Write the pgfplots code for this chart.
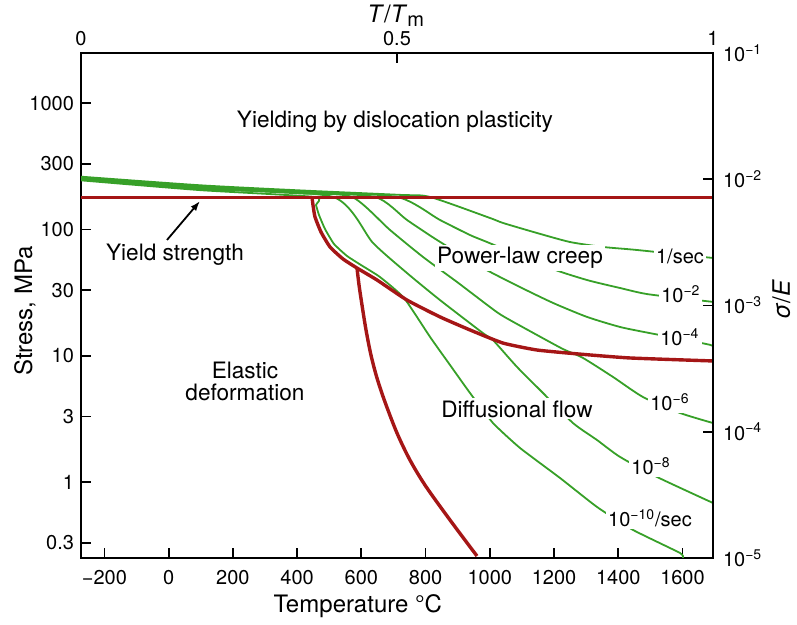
\documentclass[border=0pt]{standalone}
\usepackage{fontspec}
\setmainfont{TeX Gyre Heros}
\usepackage{pgfplots}
\pgfplotsset{compat=1.18}
\usetikzlibrary{arrows.meta}
\definecolor{dred}{RGB}{165,22,22}
\definecolor{dgreen}{RGB}{55,160,40}
\newcommand\ann{\fontsize{11.3}{11}\selectfont}
\newcommand\clab{\fontsize{10}{12}\selectfont}
\newcommand\tlab{\fontsize{10}{12}\selectfont}
\newcommand\alab{\fontsize{12}{14}\selectfont}
\begin{document}
\begin{tikzpicture}
\path[use as bounding box] (-40.5pt,-33.5pt) rectangle (358pt,279pt);
\begin{axis}[
  at={(0pt,0pt)}, anchor=south west,
  scale only axis, width=316pt, height=252.5pt,
  xmin=-273, xmax=1695, ymin=0.25, ymax=2500, ymode=log,
  xtick={-200,0,200,400,600,800,1000,1200,1400,1600},
  xticklabels={−200,0,200,400,600,800,1000,1200,1400,1600},
  ytick={0.33,1,3.3,10,33,100,330,1000},
  yticklabels={0.3,1,3,10,30,100,300,1000},
  xtick pos=left, ytick pos=left,
  tick align=inside, major tick length=5pt,
  yminorticks=false, xminorticks=false,
  axis line style={line width=1pt},
  tick style={black, line width=0.9pt},
  ticklabel style={font=\tlab},
  xticklabel style={yshift=-2.5pt},
  xlabel={Temperature °C},
  xlabel style={font=\alab, at={(axis description cs:0.438,-0.095)}, anchor=center},
  ylabel={Stress, MPa},
  ylabel style={font=\alab, at={(axis description cs:-0.0886,0.489)}, anchor=center},
]
% strain-rate contours
\addplot[dgreen, line width=0.9pt, smooth, tension=0.4] coordinates {
(-273,262) (97.6,224) (408.9,204) (720.3,188) (813.8,181) (1000.6,123.3) (1041.1,112.6) (1146.9,93.8) (1249.7,79.6) (1352.5,72.7) (1458.3,68.8) (1663.8,60.6) (1695,59.5)};
\addplot[dgreen, line width=0.9pt, smooth, tension=0.4] coordinates {
(-273,259) (97.6,220) (408.9,200) (711.0,181) (844.9,118.9) (938.3,90.4) (991.2,79.6) (1187.4,49.5) (1302.6,39.8) (1405.4,34.4) (1489.5,30.8) (1645.2,27.6) (1695,26.7)};
\addplot[dgreen, line width=0.9pt, smooth, tension=0.4] coordinates {
(-273,256) (97.6,216) (408.9,196) (642.5,181) (742.1,118.9) (835.5,82.6) (978.8,49.5) (1094,35.0) (1196.8,26.2) (1302.6,20.3) (1405.4,16.9) (1498.8,15.1) (1614,13.3) (1685.7,12.2) (1695,11.9)};
\addplot[dgreen, line width=0.9pt, smooth, tension=0.4] coordinates {
(-273,253) (97.6,213) (408.9,193) (570.9,181) (689.2,99.1) (791.9,60.6) (897.8,38.4) (1000.6,24.3) (1041.1,20.6) (1146.9,14.6) (1227.9,11.3) (1290.2,9.60) (1383.6,6.79) (1477.0,4.71) (1592.2,3.52) (1695,2.93)};
\addplot[dgreen, line width=0.9pt, smooth, tension=0.4] coordinates {
(-273,249) (97.6,209) (511.7,181) (636.3,78.2) (742.1,45.2) (844.9,27.6) (978.8,15.1) (1009.9,13.3) (1084.7,8.15) (1165.6,5.07) (1259.0,2.93) (1333.8,2.15) (1405.4,1.58) (1520.6,1.096) (1695,0.682)};
\addplot[dgreen, line width=0.9pt, smooth, tension=0.3] coordinates {
(-273,245) (97.6,205) (455.7,181) (458.8,156.3) (468.1,130.3) (486.8,100.9) (514.8,76.8) (555.3,61.7) (598.9,52.3) (658.1,42.0) (732.8,28.7) (813.8,14.1) (876.0,8.45) (938.3,5.07) (1009.9,2.93) (1094,1.86) (1218.6,1.076) (1333.8,0.634) (1445.9,0.417) (1592.2,0.274) (1601.6,0.25)};
% field boundaries
\addplot[dred, line width=1.7pt] coordinates {(-273,180) (1695,180)};
\addplot[dred, line width=1.7pt, smooth, tension=0.3] coordinates {
(446.3,180) (449.4,156.3) (455.7,125.6) (474.3,95.5) (502.4,72.7) (542.8,58.4) (586.4,49.5) (648.7,39.8) (742.1,27.6) (844.9,20.3) (938.3,16.0) (1041.1,12.6) (1146.9,11.1) (1280.8,10.3) (1436.5,9.6) (1695,9.09)};
\addplot[dred, line width=1.7pt, smooth, tension=0.5] coordinates {
(586.4,49.5) (592.7,36.4) (602.0,25.2) (614.5,16.0) (630.0,10.1) (648.7,6.66) (673.6,4.30) (711.0,2.44) (751.5,1.49) (800,0.93) (876.0,0.500) (960.1,0.259)};
% labels
\node[font=\ann] at (axis cs:704.8,710) {Yielding by dislocation plasticity};
\node[font=\ann] at (axis cs:19.7,62.8) {Yield strength};
\draw[-{Latex[length=5pt,width=3.5pt]}, line width=0.9pt] (axis cs:-5.2,82.6) -- (axis cs:97.6,168);
\node[font=\ann, fill=white, inner sep=1pt] at (axis cs:1094,59.5) {Power-law creep};
\node[font=\ann, align=center] at (axis cs:237.7,6.31) {Elastic\\deformation};
\node[font=\ann, fill=white, inner sep=1pt] at (axis cs:1084.7,3.79) {Diffusional flow};
\node[font=\clab, fill=white, inner sep=1pt] at (axis cs:1592.2,61.7) {1/sec};
\node[font=\clab, fill=white, inner sep=1pt] at (axis cs:1595,30.8) {10\textsuperscript{−2}};
\node[font=\clab, fill=white, inner sep=1pt] at (axis cs:1592,14.1) {10\textsuperscript{−4}};
\node[font=\clab, fill=white, inner sep=1pt] at (axis cs:1561,4.30) {10\textsuperscript{−6}};
\node[font=\clab, fill=white, inner sep=1pt] at (axis cs:1501.9,1.34) {10\textsuperscript{−8}};
\node[font=\clab, fill=white, inner sep=1pt] at (axis cs:1498.8,0.519) {10\textsuperscript{−10}/sec};
\end{axis}
\begin{axis}[
  at={(0pt,0pt)}, anchor=south west,
  scale only axis, width=316pt, height=252.5pt,
  xmin=0, xmax=1, ymin=1e-5, ymax=1e-1, ymode=log,
  axis x line*=top, axis y line*=right,
  xtick={0,0.5,1}, xticklabels={0,0.5,1},
  ytick={1e-5,1e-4,1e-3,1e-2,1e-1},
  yticklabels={10\textsuperscript{−5},10\textsuperscript{−4},10\textsuperscript{−3},10\textsuperscript{−2},10\textsuperscript{−1}},
  yminorticks=false, xminorticks=false,
  tick align=inside, major tick length=5pt,
  axis line style={line width=1pt},
  tick style={black, line width=0.9pt},
  ticklabel style={font=\tlab},
  yticklabel style={xshift=1.5pt},
  xlabel={\textit{T}/\textit{T}\raisebox{-0.3ex}{\fontsize{10}{12}\selectfont m}},
  xlabel style={font=\alab, at={(axis description cs:0.498,1.073)}, anchor=center},
  ylabel={\textit{σ}/\textit{E}},
  ylabel style={font=\alab, at={(axis description cs:1.108,0.511)}, anchor=center},
]
\end{axis}
\end{tikzpicture}
\end{document}
